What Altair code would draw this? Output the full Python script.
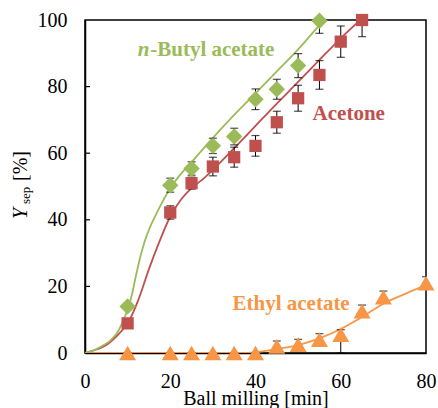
import altair as alt
import pandas as pd

FONT = "Liberation Serif"
GREEN = "#9BBB59"
RED = "#C0504D"
ORANGE = "#F79646"

# ---- measured points (x: ball milling time [min], y: Y_sep [%]) ----
bu_x = [10, 20, 25, 30, 35, 40, 45, 50, 55]
bu_y = [14, 50.4, 55.4, 62.2, 65, 76.2, 79.2, 86.3, 99.8]
bu_err = [1, 2.1, 2, 2.3, 2.5, 3.1, 3, 3.6, 3.8]

ac_x = [10, 20, 25, 30, 35, 40, 45, 50, 55, 60, 65]
ac_y = [8.9, 42.2, 51, 56, 58.8, 62.2, 69.3, 76.5, 83.5, 93.5, 100]
ac_err = [1, 2, 1.8, 2.8, 3, 3.1, 3.3, 3.9, 4.3, 4.7, 5]

et_x = [10, 20, 25, 30, 35, 40, 45, 50, 55, 60, 65, 70, 80]
et_y = [0, 0, 0, 0, 0, 0, 2, 2.5, 4, 5.5, 12.6, 16.8, 21]
et_err_lo = [0, 0, 0, 0, 0, 0, 0.3, 0.3, 0.3, 5.5, 0.3, 0.3, 0.3]
et_err_hi = [0, 0, 0, 0, 0, 0, 1.6, 1.6, 1.8, 1.5, 1.8, 1.8, 1.9]

# ---- fitted curves ----
bu_fit_x = [0, 2, 4, 6, 8, 9, 10, 11, 12, 13, 14, 15, 17, 20, 22.5, 25, 27.5, 30, 35, 40, 45, 50, 55]
bu_fit_y = [0, 0.8, 2.1, 3.8, 7, 9.9, 13, 17.5, 23.5, 29, 33.5, 37, 42.5, 49.5, 53.8, 57.3, 61, 64.6, 71.5, 78, 84.6, 91.2, 98.5]

ac_fit_x = [0, 3, 5, 8, 10, 12.5, 15, 17.5, 20, 22.5, 25, 28, 30, 35, 40, 45, 50, 55, 60, 65]
ac_fit_y = [0, 1.2, 2.4, 5.8, 8.9, 15.9, 25.2, 33.6, 41, 46, 49.5, 52.6, 55, 61.5, 68.2, 74.9, 81.4, 88, 94.5, 100.5]

et_fit_x = [0, 10, 20, 30, 36, 40, 45, 50, 55, 60, 65, 70, 75, 80]
et_fit_y = [0, 0, 0, 0, 0, 0.2, 1.2, 2.4, 4.4, 7.2, 10.8, 14.8, 17.7, 20.4]

# ---- axis ticks ----
x_ticks = [0, 20, 40, 60, 80]
y_ticks = [0, 20, 40, 60, 80, 100]
y_inner_ticks = [20, 40, 60, 80]

# ---- series labels ----
lab_text = ["Acetone", "Ethyl acetate"]
lab_x = [53.4, 34.6]
lab_y = [70, 12.9]
lab_color = [RED, ORANGE]

xs = alt.Scale(domain=[0, 80], nice=False, zero=False)
ys = alt.Scale(domain=[0, 100], nice=False, zero=False)

xax = alt.Axis(values=x_ticks, ticks=False, grid=False, labelFont=FONT, labelFontSize=20,
               labelBaseline="alphabetic", labelPadding=34, labelColor="black", labelFlush=False,
               labelOverlap=False,
               domainColor="black", domainWidth=1.5,
               title="Ball milling [min]", titleFont=FONT, titleFontSize=20,
               titleFontWeight="normal", titleColor="black", titleBaseline="alphabetic", titleY=51)
yax = alt.Axis(values=y_ticks, ticks=False, grid=False, labelFont=FONT, labelFontSize=20,
               labelPadding=18, labelColor="black", labelFlush=False, labelOverlap=False,
               domainColor="black", domainWidth=1.5, title=None)

X = alt.X("x:Q", scale=xs, axis=xax)
Y = alt.Y("y:Q", scale=ys, axis=yax)
Xn = alt.X("x:Q", scale=xs)
Yn = alt.Y("y:Q", scale=ys)


def fit_layer(fx, fy, color):
    df = pd.DataFrame({"x": fx, "y": fy})
    return alt.Chart(df).mark_line(color=color, strokeWidth=1.8, interpolate="monotone", clip=True).encode(x=Xn, y=Yn)


def err_layers(px, py, lo, hi):
    df = pd.DataFrame({"x": px, "y": py})
    df["lo"] = [a - b for a, b in zip(py, lo)]
    df["hi"] = [a + b for a, b in zip(py, hi)]
    base = alt.Chart(df)
    rule = base.mark_rule(color="black", strokeWidth=1, clip=True).encode(
        x=Xn, y=alt.Y("lo:Q", scale=ys), y2="hi:Q")
    cap_lo = base.mark_tick(color="black", thickness=1.2, size=8, orient="horizontal", clip=True).encode(
        x=Xn, y=alt.Y("lo:Q", scale=ys))
    cap_hi = base.mark_tick(color="black", thickness=1.2, size=8, orient="horizontal", clip=True).encode(
        x=Xn, y=alt.Y("hi:Q", scale=ys))
    return [rule, cap_lo, cap_hi]


def pts_layer(px, py, color, shape, size):
    df = pd.DataFrame({"x": px, "y": py})
    return alt.Chart(df).mark_point(shape=shape, filled=True, opacity=1, color=color, size=size,
                                    strokeWidth=0).encode(x=Xn, y=Yn)


# base layer carrying the axes
axes_df = pd.DataFrame({"x": [0, 80], "y": [0, 100]})
base = alt.Chart(axes_df).mark_point(opacity=0).encode(x=X, y=Y)

tick_df = pd.DataFrame({"y": y_inner_ticks})
ticks = alt.Chart(tick_df).mark_rule(color="black", strokeWidth=1.2).encode(
    y=Yn, x=alt.value(0), x2=alt.value(5))

layers = [base, ticks,
          fit_layer(et_fit_x, et_fit_y, ORANGE),
          fit_layer(ac_fit_x, ac_fit_y, RED),
          fit_layer(bu_fit_x, bu_fit_y, GREEN)]
layers += err_layers(et_x, et_y, et_err_lo, et_err_hi)
layers += err_layers(ac_x, ac_y, ac_err, ac_err)
layers += err_layers(bu_x, bu_y, bu_err, bu_err)
layers += [pts_layer(et_x, et_y, ORANGE, "triangle-up", 290),
           pts_layer(ac_x, ac_y, RED, "square", 150),
           pts_layer(bu_x, bu_y, GREEN, "diamond", 270)]

# series labels
lab_df = pd.DataFrame({"x": lab_x, "y": lab_y, "t": lab_text, "c": lab_color})
labels = alt.Chart(lab_df).mark_text(font=FONT, fontSize=21, fontWeight="bold", align="left",
                                     baseline="alphabetic").encode(
    x=Xn, y=Yn, text="t:N", color=alt.Color("c:N", scale=None))

bu_lab_df = pd.DataFrame({"x": [12.4], "y": [89.2], "t": ["n"]})
bu_lab1 = alt.Chart(bu_lab_df).mark_text(font=FONT, fontSize=21, fontWeight="bold", fontStyle="italic",
                                         align="left", baseline="alphabetic", color=GREEN).encode(
    x=Xn, y=Yn, text="t:N")
bu_lab_df2 = pd.DataFrame({"x": [15.3], "y": [89.2], "t": ["-Butyl acetate"]})
bu_lab2 = alt.Chart(bu_lab_df2).mark_text(font=FONT, fontSize=21, fontWeight="bold",
                                          align="left", baseline="alphabetic", color=GREEN).encode(
    x=Xn, y=Yn, text="t:N")

# y-axis title: Y_sep [%]
yt1 = alt.Chart(pd.DataFrame({"t": ["Y"]})).mark_text(
    font=FONT, fontSize=20, fontStyle="italic", angle=270, align="left", baseline="alphabetic",
    color="black").encode(text="t:N", x=alt.value(-58), y=alt.value(199))
yt2 = alt.Chart(pd.DataFrame({"t": ["sep"]})).mark_text(
    font=FONT, fontSize=13, angle=270, align="left", baseline="alphabetic",
    color="black").encode(text="t:N", x=alt.value(-55), y=alt.value(184))
yt3 = alt.Chart(pd.DataFrame({"t": ["[%]"]})).mark_text(
    font=FONT, fontSize=20, angle=270, align="left", baseline="alphabetic",
    color="black").encode(text="t:N", x=alt.value(-58), y=alt.value(161))

layers += [labels, bu_lab1, bu_lab2, yt1, yt2, yt3]

chart = alt.layer(*layers).properties(
    width=341, height=333,
    autosize=alt.AutoSizeParams(type="none"),
    padding={"left": 85, "top": 20, "right": 12, "bottom": 55},
    background="white",
).configure_view(stroke="black", strokeWidth=1.5)

chart.save("out.html", embed_options={"renderer": "svg", "actions": False})
